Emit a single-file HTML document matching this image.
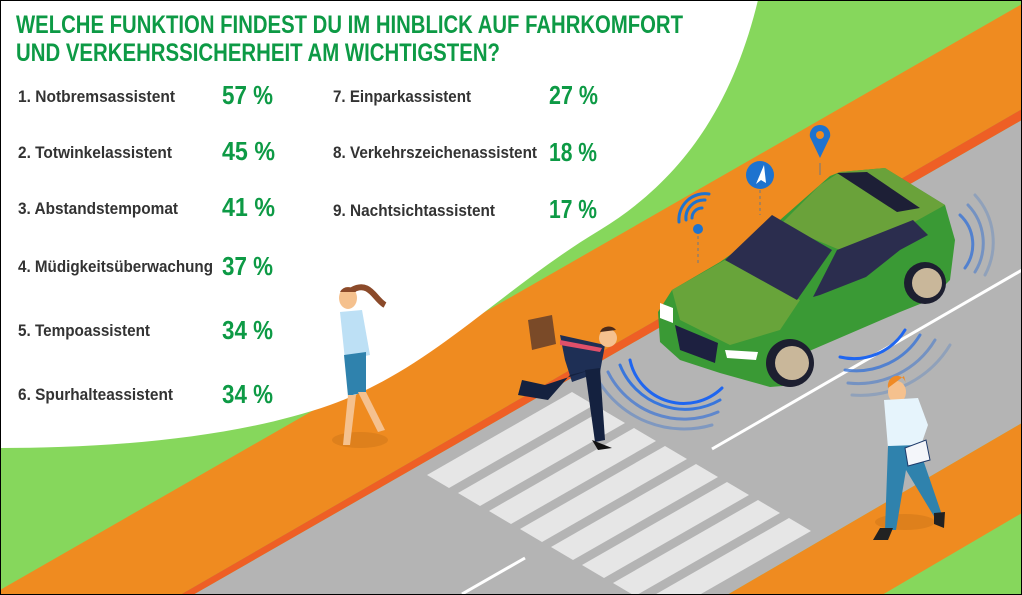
<!DOCTYPE html>
<html><head><meta charset="utf-8"><style>
html,body{margin:0;padding:0;background:#fff}
svg{display:block}
.t{font-family:"Liberation Sans",sans-serif;font-weight:bold;fill:#0d9a45}
.l{font-family:"Liberation Sans",sans-serif;font-weight:bold;fill:#333;font-size:16.5px}
.p{font-family:"Liberation Sans",sans-serif;font-weight:bold;fill:#0d9a45;font-size:26px}
</style></head><body>
<svg width="1022" height="595" viewBox="0 0 1022 595" xmlns="http://www.w3.org/2000/svg">
<rect width="1022" height="595" fill="#86d75c"/>
<!-- upper orange band -->
<polygon points="0,590 1022,4 1022,109 180,595 0,595" fill="#ef8b20"/>
<!-- red curb -->
<polygon points="180,595 1022,109 1022,120 193,595" fill="#ee5f25"/>
<!-- road -->
<polygon points="193,595 1022,120 1022,423 727,595" fill="#b4b4b4"/>
<!-- lower orange -->
<polygon points="727,595 1022,423 1022,513 882,595" fill="#ef8b20"/>
<!-- white area -->
<path d="M0,0 L758,0 C735,95 690,175 600,230 C500,290 430,370 330,405 C230,440 100,448 0,448 Z" fill="#fff"/>
<!-- crosswalk -->
<g fill="#e6e6e6">
<polygon points="427,475 449,488 594,405 572,392"/>
<polygon points="458,493 480,506 625,423 603,410"/>
<polygon points="489,511 511,524 656,441 634,428"/>
<polygon points="520,529 542,542 687,459 665,446"/>
<polygon points="551,547 573,560 718,477 696,464"/>
<polygon points="582,565 604,578 749,495 727,482"/>
<polygon points="613,583 635,596 780,513 758,500"/>
<polygon points="644,601 666,614 811,531 789,518"/>
</g>
<!-- lane lines -->
<line x1="712" y1="449" x2="1022" y2="270" stroke="#fff" stroke-width="3"/>
<line x1="462" y1="594" x2="525" y2="558" stroke="#fff" stroke-width="3"/>
<!-- sensor arcs -->
<g fill="none" stroke-linecap="round">
<path d="M620,365 A70,70 0 0 0 720,400" stroke="#2a6fe0" stroke-width="3" opacity=".9"/>
<path d="M608,372 A85,85 0 0 0 718,412" stroke="#3a74d6" stroke-width="3" opacity=".7"/>
<path d="M598,380 A100,100 0 0 0 712,425" stroke="#4a7ccc" stroke-width="3" opacity=".5"/>
<path d="M630,360 A55,55 0 0 0 722,388" stroke="#1f66f0" stroke-width="3"/>
<path d="M840,357 A60,60 0 0 0 905,330" stroke="#1f66f0" stroke-width="3"/>
<path d="M845,370 A75,75 0 0 0 920,335" stroke="#3a74d6" stroke-width="3" opacity=".8"/>
<path d="M848,383 A90,90 0 0 0 935,340" stroke="#4a7ccc" stroke-width="3" opacity=".6"/>
<path d="M852,395 A105,105 0 0 0 950,345" stroke="#5a84c4" stroke-width="3" opacity=".4"/>
<path d="M960,215 A40,40 0 0 1 965,268" stroke="#3a74d6" stroke-width="3" opacity=".8"/>
<path d="M968,205 A55,55 0 0 1 975,272" stroke="#4a7ccc" stroke-width="3" opacity=".6"/>
<path d="M975,195 A70,70 0 0 1 985,275" stroke="#5a84c4" stroke-width="3" opacity=".4"/>
</g>
<!-- car -->
<polygon points="840,172 885,168 945,205 955,240 950,280 930,300 900,312 800,355 795,385 770,387 720,373 680,360 660,342 658,312 672,290 720,262 780,220 830,176" fill="#3a9a35"/>
<polygon points="840,172 885,168 945,205 900,230 840,250 780,225 820,185" fill="#6aa23a"/>
<polygon points="672,290 725,260 800,300 780,330 730,345 680,320" fill="#68a43a"/>
<polygon points="725,260 772,215 832,250 797,300" fill="#2b2d4e"/>
<polygon points="813,297 837,250 913,220 928,235 900,250 866,277 820,295" fill="#2b2d4e"/>
<polygon points="837,173 867,172 920,208 897,212" fill="#1d1f36"/>
<polygon points="675,325 718,343 715,363 680,350" fill="#1d2040"/>
<polygon points="660,303 673,308 673,323 660,318" fill="#fff"/>
<polygon points="725,350 758,352 756,360 727,358" fill="#fff"/>
<circle cx="790" cy="363" r="24" fill="#1d1f30"/><circle cx="792" cy="363" r="17" fill="#c9b79a"/>
<circle cx="925" cy="283" r="21" fill="#1d1f30"/><circle cx="927" cy="283" r="15" fill="#c9b79a"/>
<!-- icons -->
<circle cx="760" cy="175" r="14" fill="#1e73cf"/>
<polygon points="764,165 756,184 761,180 766,183" fill="#fff"/>
<line x1="760" y1="190" x2="760" y2="215" stroke="#6a7a8a" stroke-dasharray="3,3"/>
<path d="M820,125 a10,10 0 0 1 10,12 L820,158 L810,137 a10,10 0 0 1 10,-12 Z" fill="#1e73cf"/>
<circle cx="820" cy="135" r="4" fill="#ef8b20"/>
<line x1="820" y1="163" x2="820" y2="175" stroke="#6a7a8a"/>
<g fill="none" stroke="#1e73cf" stroke-width="3" stroke-linecap="round">
<path d="M686,220 A18,18 0 0 1 705,200"/><path d="M679,222 A26,26 0 0 1 709,194"/><path d="M692,218 A10,10 0 0 1 702,208"/>
</g>
<circle cx="698" cy="229" r="5" fill="#1e73cf"/>
<line x1="698" y1="236" x2="698" y2="265" stroke="#6a7a8a" stroke-dasharray="3,3"/>
<!-- woman -->
<ellipse cx="360" cy="440" rx="28" ry="8" fill="#d27a1a" opacity=".6"/>
<path d="M352,290 C370,280 375,300 385,305" stroke="#8b4a2a" stroke-width="6" fill="none"/>
<ellipse cx="348" cy="298" rx="9" ry="11" fill="#f5c18e"/>
<path d="M340,292 a9,9 0 0 1 16,0 z" fill="#8b4a2a"/>
<polygon points="340,312 362,310 370,355 345,360" fill="#bde0f5"/>
<polygon points="344,355 366,352 366,392 348,396" fill="#2f82ad"/>
<polygon points="348,395 356,395 350,445 343,445" fill="#f5c18e"/>
<polygon points="358,392 366,392 385,430 378,432" fill="#f5c18e"/>
<!-- running man -->
<polygon points="528,320 552,315 556,344 532,350" fill="#7a4a28"/>
<polygon points="560,335 605,345 600,372 572,382 565,360" fill="#1e2f55"/>
<polygon points="570,375 590,370 545,385 522,380 518,395 548,400" fill="#14213f"/>
<polygon points="585,370 600,368 605,440 595,442" fill="#14213f"/>
<polygon points="592,440 612,448 598,450" fill="#111"/>
<circle cx="608" cy="338" r="9" fill="#f5c18e"/>
<path d="M600,332 a9,8 0 0 1 16,-2 z" fill="#4a2a1a"/>
<polygon points="560,340 602,348 600,352 560,345" fill="#e0506a"/>
<!-- right man -->
<ellipse cx="905" cy="522" rx="30" ry="8" fill="#d27a1a" opacity=".6"/>
<ellipse cx="897" cy="392" rx="9" ry="11" fill="#f5c18e"/>
<path d="M888,388 a9,10 0 0 1 18,-4 l-2,-8 z" fill="#f08a24"/>
<polygon points="884,400 918,398 928,425 920,448 888,448" fill="#e6f4fc"/>
<polygon points="888,446 918,445 942,515 935,518 906,470 896,530 885,530" fill="#2f82ad"/>
<polygon points="905,448 926,440 930,460 908,466" fill="#f4f6fa" stroke="#1e3a6a"/>
<polygon points="880,528 893,528 888,540 873,540" fill="#222"/>
<polygon points="934,513 945,512 944,528 934,524" fill="#222"/>
<!-- title -->
<text class="t" x="16" y="33" font-size="25" textLength="667" lengthAdjust="spacingAndGlyphs">WELCHE FUNKTION FINDEST DU IM HINBLICK AUF FAHRKOMFORT</text>
<text class="t" x="16" y="61" font-size="25" textLength="484" lengthAdjust="spacingAndGlyphs">UND VERKEHRSSICHERHEIT AM WICHTIGSTEN?</text>
<!-- items -->
<text class="l" x="18" y="102" textLength="157" lengthAdjust="spacingAndGlyphs">1. Notbremsassistent</text>
<text class="l" x="18" y="158" textLength="154" lengthAdjust="spacingAndGlyphs">2. Totwinkelassistent</text>
<text class="l" x="18" y="214" textLength="160" lengthAdjust="spacingAndGlyphs">3. Abstandstempomat</text>
<text class="l" x="18" y="272" textLength="195" lengthAdjust="spacingAndGlyphs">4. Müdigkeitsüberwachung</text>
<text class="l" x="18" y="336" textLength="132" lengthAdjust="spacingAndGlyphs">5. Tempoassistent</text>
<text class="l" x="18" y="400" textLength="155" lengthAdjust="spacingAndGlyphs">6. Spurhalteassistent</text>
<text class="l" x="333" y="102" textLength="138" lengthAdjust="spacingAndGlyphs">7. Einparkassistent</text>
<text class="l" x="333" y="158" textLength="204" lengthAdjust="spacingAndGlyphs">8. Verkehrszeichenassistent</text>
<text class="l" x="333" y="216" textLength="162" lengthAdjust="spacingAndGlyphs">9. Nachtsichtassistent</text>
<text class="p" x="222" y="104" textLength="51" lengthAdjust="spacingAndGlyphs">57 %</text>
<text class="p" x="222" y="160" textLength="53" lengthAdjust="spacingAndGlyphs">45 %</text>
<text class="p" x="222" y="216" textLength="53" lengthAdjust="spacingAndGlyphs">41 %</text>
<text class="p" x="222" y="275" textLength="51" lengthAdjust="spacingAndGlyphs">37 %</text>
<text class="p" x="222" y="339" textLength="51" lengthAdjust="spacingAndGlyphs">34 %</text>
<text class="p" x="222" y="403" textLength="51" lengthAdjust="spacingAndGlyphs">34 %</text>
<text class="p" x="549" y="104" textLength="49" lengthAdjust="spacingAndGlyphs">27 %</text>
<text class="p" x="549" y="161" textLength="48" lengthAdjust="spacingAndGlyphs">18 %</text>
<text class="p" x="549" y="218" textLength="48" lengthAdjust="spacingAndGlyphs">17 %</text>
<rect x="0.5" y="0.5" width="1021" height="594" fill="none" stroke="#000" stroke-width="1"/>
</svg>
</body></html>
